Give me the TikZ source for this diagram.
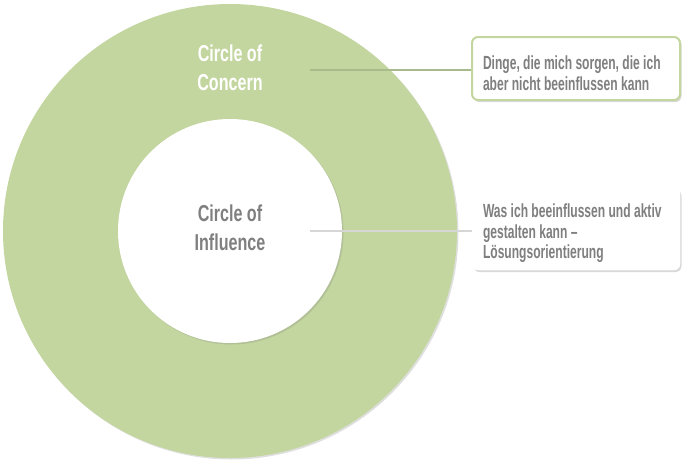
\documentclass[tikz,border=0pt]{standalone}
\usepackage{fontspec}
\setmainfont{Liberation Sans}[FakeStretch=0.70]
\newfontfamily\notefont{Liberation Sans}[FakeStretch=0.635, Ligatures=TeX]
\usepackage{xcolor}
\usetikzlibrary{positioning, shadows, calc}

\definecolor{concerngreen}{HTML}{C3D69F}
\definecolor{linegreen}{HTML}{A8BC8B}
\definecolor{textgray}{HTML}{7F7F7F}
\definecolor{linegray}{HTML}{D6D6D6}

\begin{document}
\begin{tikzpicture}[x=1pt, y=-1pt, font=\bfseries,
  ring/.style={circle, inner sep=0pt, draw=none,
    drop shadow={shadow xshift=1.5pt, shadow yshift=-1.5pt, opacity=0.25}},
  circlelabel/.style={align=center, font=\fontsize{23}{29}\selectfont\bfseries},
  notebox/.style={rounded corners=6pt, fill=white, minimum width=208pt,
    text width=186pt, align=flush left, inner xsep=11pt, inner ysep=3pt,
    font=\notefont\fontsize{19}{20.5}\selectfont\bfseries, text=textgray,
    execute at begin node={\rule{0pt}{23pt}},
    drop shadow={shadow xshift=1.5pt, shadow yshift=-2pt, opacity=0.3}},
  leader/.style={line width=1.6pt}
]
  \useasboundingbox (0,0) rectangle (685,464);

  % the two circles
  \node[ring, fill=concerngreen, minimum size=454pt] (concern) at (230,231) {};
  \node[ring, fill=white, minimum size=224pt] (influence) at (230,231) {};

  \node[circlelabel, text=white] (concernlbl) at (230,68) {Circle of\\Concern};
  \node[circlelabel, text=textgray] (influencelbl) at (230,228) {Circle of\\Influence};

  % explanation boxes
  \node[notebox, draw=concerngreen, line width=2pt, minimum height=63pt]
    (concernbox) at (576,68.5) {Dinge, die mich sorgen, die ich\\aber nicht beeinflussen kann};
  \node[notebox, draw=white, minimum height=82pt]
    (influencebox) at (576,229) {Was ich beeinflussen und aktiv\\gestalten kann --\\Lösungsorientierung};

  % leader lines
  \coordinate (concernend) at (310,70);
  \coordinate (influenceend) at (310,231);
  \draw[leader, linegreen] (concernend) -- (concernend -| concernbox.west);
  \draw[leader, linegray] (influenceend) -- (influenceend -| influencebox.west);
\end{tikzpicture}
\end{document}
